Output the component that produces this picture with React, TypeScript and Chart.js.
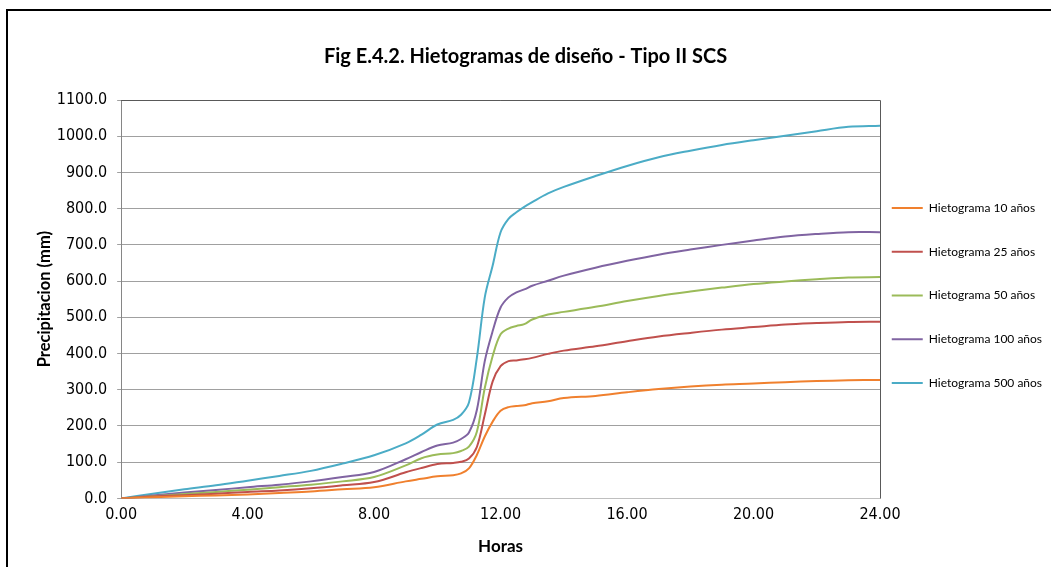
import React, { useEffect, useRef } from "react";
import { Chart, registerables } from "chart.js";

Chart.register(...registerables);

const HOURS = [0, 1, 2, 3, 4, 5, 6, 7, 8, 9, 9.5, 10, 10.5, 10.75, 11, 11.25, 11.5, 11.75, 12, 12.25, 12.5, 12.75, 13, 13.5, 14, 15, 16, 17, 18, 19, 20, 21, 22, 23, 24];

const P10 = [0, 3, 6, 8, 11, 15, 19, 25, 31, 47, 54, 61, 64, 69, 83, 120, 171, 212, 242, 252, 255, 257, 263, 268, 277, 283, 293, 302, 309, 314, 317, 321, 324, 326, 327];
const P25 = [0, 5, 9, 13, 18, 22, 28, 36, 45, 72, 84, 95, 98, 101, 110, 142, 231, 323, 365, 379, 381, 384, 388, 399, 408, 420, 434, 447, 457, 466, 473, 480, 484, 487, 488];
const P50 = [0, 6, 12, 18, 24, 31, 38, 47, 59, 91, 111, 121, 125, 131, 143, 184, 305, 393, 453, 469, 476, 481, 494, 508, 515, 529, 545, 559, 571, 582, 592, 599, 605, 610, 611];
const P100 = [0, 8, 16, 23, 31, 38, 47, 59, 73, 108, 128, 146, 154, 164, 182, 244, 379, 462, 527, 555, 569, 577, 587, 601, 615, 637, 656, 673, 687, 700, 712, 723, 730, 735, 735];
const P500 = [0, 13, 25, 36, 49, 62, 76, 96, 119, 152, 176, 204, 217, 231, 265, 388, 555, 643, 735, 772, 790, 805, 818, 842, 860, 890, 918, 942, 960, 976, 989, 1001, 1014, 1026, 1029];

const SERIES_LABELS = ["Hietograma 10 años", "Hietograma 25 años", "Hietograma 50 años", "Hietograma 100 años", "Hietograma 500 años"];
const SERIES_COLORS = ["#F0802E", "#C0504D", "#9BBB59", "#8064A2", "#4BACC6"];
const SERIES_VALUES = [P10, P25, P50, P100, P500];

const TITLE = "Fig E.4.2. Hietogramas de diseño - Tipo II SCS";
const X_TITLE = "Horas";
const Y_TITLE = "Precipitacion (mm)";

const TICK_FONT = "'Liberation Sans Narrow', 'DejaVu Sans Condensed', 'Liberation Sans', Arial, sans-serif";
const LABEL_FONT = "Lato, 'Open Sans', sans-serif";

export default function App() {
  const ref = useRef<HTMLCanvasElement | null>(null);

  useEffect(() => {
    if (!ref.current) return;
    const plotBorder = {
      id: "plotBorder",
      beforeDatasetsDraw(chart: any) {
        const { ctx, chartArea } = chart;
        ctx.save();
        ctx.strokeStyle = "#595959";
        ctx.lineWidth = 1;
        ctx.beginPath();
        ctx.moveTo(chartArea.left, chartArea.top + 0.5);
        ctx.lineTo(chartArea.right + 0.5, chartArea.top + 0.5);
        ctx.lineTo(chartArea.right + 0.5, chartArea.bottom);
        ctx.stroke();
        ctx.restore();
      },
    };
    const legendShift = {
      id: "legendShift",
      afterLayout(chart: any) {
        const l = chart.legend;
        if (l) {
          l.left -= 20;
          l.width += 20;
          l.top += 12;
          l.bottom += 12;
        }
      },
    };
    const chart = new Chart(ref.current, {
      type: "line",
      data: {
        datasets: SERIES_VALUES.map((vals, i) => ({
          label: SERIES_LABELS[i],
          data: HOURS.map((h, j) => ({ x: h, y: vals[j] })),
          borderColor: SERIES_COLORS[i],
          backgroundColor: SERIES_COLORS[i],
          borderWidth: 2,
          pointRadius: 0,
          tension: 0.35,
          fill: false,
        })),
      },
      options: {
        animation: false,
        responsive: false,
        maintainAspectRatio: false,
        layout: { padding: { left: 0, right: 0, top: 0, bottom: 0 } },
        plugins: {
          title: {
            display: true,
            text: TITLE,
            color: "#000",
            font: { family: LABEL_FONT, size: 20, weight: "bold" },
            padding: { top: 45, bottom: 31 },
          },
          legend: {
            position: "right",
            align: "center",
            maxWidth: 171,
            labels: {
              usePointStyle: true,
              pointStyle: "line",
              pointStyleWidth: 31,
              boxHeight: 12,
              padding: 31.75,
              color: "#000",
              font: { family: LABEL_FONT, size: 12 },
            },
          },
          tooltip: { enabled: false },
        },
        scales: {
          x: {
            type: "linear",
            min: 0,
            max: 24,
            ticks: {
              stepSize: 4,
              padding: 3,
              color: "#000",
              font: { family: TICK_FONT, size: 16 },
              callback: (v: any) => Number(v).toFixed(2),
            },
            grid: { display: true, drawOnChartArea: false, tickLength: 4, color: "rgba(0,0,0,0)" },
            border: { color: "#BFBFBF", width: 1 },
            title: {
              display: true,
              text: X_TITLE,
              color: "#000",
              font: { family: LABEL_FONT, size: 17, weight: "bold" },
              padding: { top: 9, bottom: 10 },
            },
          },
          y: {
            type: "linear",
            min: 0,
            max: 1100,
            ticks: {
              stepSize: 100,
              padding: 10,
              color: "#000",
              font: { family: TICK_FONT, size: 16 },
              callback: (v: any) => Number(v).toFixed(1),
            },
            grid: { color: "#A0A0A0", tickLength: 4 },
            border: { color: "#868686", width: 1 },
            title: {
              display: true,
              text: Y_TITLE,
              color: "#000",
              font: { family: LABEL_FONT, size: 16.5, weight: "bold" },
              padding: { top: 35, bottom: -8 },
            },
          },
        },
      },
      plugins: [plotBorder, legendShift],
    });
    return () => chart.destroy();
  }, []);

  return (
    <div style={{ position: "fixed", left: 0, top: 0, width: 1051, height: 567, background: "#fff", overflow: "hidden" }}>
      <div style={{ position: "absolute", left: 6, top: 9, width: 1200, height: 800, border: "2px solid #000", boxSizing: "border-box" }} />
      <canvas ref={ref} width={1051} height={567} style={{ position: "absolute", left: 0, top: 0, width: 1051, height: 567 }} />
    </div>
  );
}
